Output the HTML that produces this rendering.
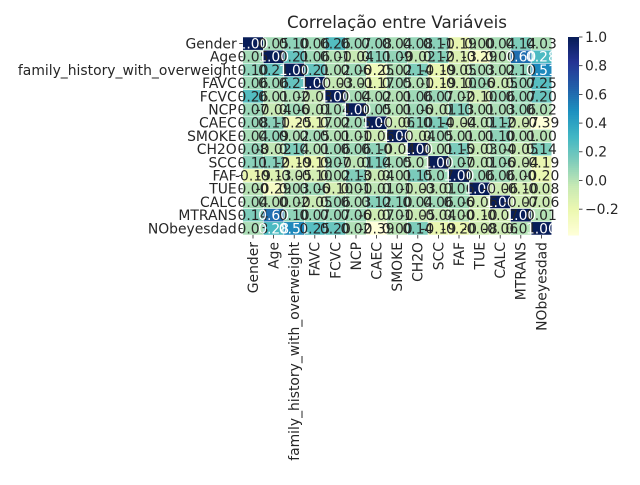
<!DOCTYPE html>
<html><head><meta charset="utf-8"><style>
body{margin:0;background:#fff}
svg text{font-family:"DejaVu Sans","Liberation Sans",sans-serif;fill:#262626}
</style></head><body>
<svg id="chart" width="640" height="480" xmlns="http://www.w3.org/2000/svg">
<text x="397" y="28" font-size="16.7" text-anchor="middle">Correlação entre Variáveis</text>
<g id="cells"></g><g id="annots"></g><g id="yaxis"></g><g id="xaxis"></g><g id="cbar"></g>
</svg>
<script>
const labels = ["Gender","Age","family_history_with_overweight","FAVC","FCVC","NCP","CAEC","SMOKE","CH2O","SCC","FAF","TUE","CALC","MTRANS","NObeyesdad"];
// upper triangle rows (values from column i+1 .. end)
const upperGender = [0.05,0.10,0.06,0.26,0.07,0.08,0.04,0.08,0.11,-0.19,-0.00,0.04,0.14,0.03];
const upperAge = [0.21,0.06,0.01,-0.04,0.11,0.09,-0.02,0.12,-0.13,-0.29,0.00,0.60,0.28];
const upperFamily = [0.21,0.02,0.06,-0.25,0.02,0.14,-0.19,-0.05,0.03,0.02,0.10,0.51];
const upperFAVC = [-0.03,-0.01,-0.17,0.05,0.01,-0.19,-0.10,0.06,-0.05,0.07,0.25];
const upperFCVC = [0.04,0.02,0.01,0.06,0.07,0.02,-0.10,0.06,0.07,0.20];
const upperNCP = [0.05,0.01,0.06,-0.01,0.13,0.01,0.03,0.06,0.02];
const upperCAEC = [-0.06,0.10,0.14,-0.04,-0.01,0.12,-0.07,-0.39];
const upperSMOKE = [-0.04,0.05,0.01,0.01,0.10,0.01,0.00];
const upperCH2O = [0.01,0.15,-0.03,0.04,-0.05,0.14];
const upperSCC = [0.07,-0.01,0.06,-0.04,-0.19];
const upperFAF = [0.06,0.06,0.00,-0.20];
const upperTUE = [-0.06,-0.10,-0.08];
const upperCALC = [-0.07,-0.06];
const upperMTRANS = [0.01];
const cbarTicks = [1.0,0.8,0.6,0.4,0.2,0.0,-0.2];
const vmin = -0.38, vmax = 1.0;

const uppers=[upperGender,upperAge,upperFamily,upperFAVC,upperFCVC,upperNCP,upperCAEC,upperSMOKE,upperCH2O,upperSCC,upperFAF,upperTUE,upperCALC,upperMTRANS,[]];
const n=labels.length;
const M=[];for(let i=0;i<n;i++){M.push(new Array(n).fill(1));}
for(let i=0;i<n;i++){uppers[i].forEach((v,k)=>{const j=i+1+k;M[i][j]=v;M[j][i]=v;});}

const X0=242.7,X1=551.7,Y0=37,Y1=235;
const cw=(X1-X0)/n,ch=(Y1-Y0)/n;
const xs=j=>X0+j*cw, ys=i=>Y0+i*ch;
const stops=["#ffffd9","#edf8b1","#c7e9b4","#7fcdbb","#41b6c4","#1d91c0","#225ea8","#253494","#081d58"].map(h=>[parseInt(h.slice(1,3),16),parseInt(h.slice(3,5),16),parseInt(h.slice(5,7),16)]);
function cmap(v){let t=(v-vmin)/(vmax-vmin);t=Math.max(0,Math.min(1,t));const p=t*(stops.length-1);const k=Math.min(stops.length-2,Math.floor(p));const f=p-k;
 return stops[k].map((c,idx)=>Math.round(c+(stops[k+1][idx]-c)*f));}
function lum(c){const l=c.map(x=>{x/=255;return x<=0.03928?x/12.92:Math.pow((x+0.055)/1.055,2.4);});return 0.2126*l[0]+0.7152*l[1]+0.0722*l[2];}
const NS="http://www.w3.org/2000/svg";
function mk(tag,attrs,parent){const e=document.createElementNS(NS,tag);for(const k in attrs)e.setAttribute(k,attrs[k]);parent.appendChild(e);return e;}
const gc=document.getElementById('cells'),ga=document.getElementById('annots');
for(let i=0;i<n;i++)for(let j=0;j<n;j++){
 const v=M[i][j];const c=cmap(v);
 const r=mk('rect',{x:xs(j),y:ys(i),width:cw,height:ch,fill:`rgb(${c})`,stroke:'#ffffff','stroke-width':0.5},gc);
 
 
 const t=mk('text',{x:xs(j)+cw/2,y:ys(i)+ch/2+4.9,'font-size':13.9,'text-anchor':'middle'},ga);
 
 
 t.style.fill=lum(c)>0.408?'#262626':'#ffffff';
 t.textContent=v.toFixed(2);
}
const gy=document.getElementById('yaxis'),gx=document.getElementById('xaxis');
labels.forEach((l,i)=>{
 const y=ys(i)+ch/2;
 mk('line',{x1:X0-3.5,x2:X0,y1:y,y2:y,stroke:'#262626','stroke-width':0.8},gy);
 const t=mk('text',{x:X0-6,y:y+4.9,'font-size':13.9,'text-anchor':'end'},gy);
 
 
 t.textContent=l;
 const x=xs(i)+cw/2;
 mk('line',{x1:x,x2:x,y1:Y1,y2:Y1+3.5,stroke:'#262626','stroke-width':0.8},gx);
 const tx=mk('text',{x:0,y:0,'font-size':13.9,'text-anchor':'end',transform:`translate(${x+4.9},${Y1+7}) rotate(-90)`},gx);
 
 
 tx.textContent=l;
});
// colorbar
const gb=document.getElementById('cbar');
const CX=568,CW=11,CY0=37,CY1=235;
const cy=v=>CY1-(v-vmin)/(vmax-vmin)*(CY1-CY0);
for(let k=0;k<100;k++){const v0=vmin+(vmax-vmin)*k/100,v1=vmin+(vmax-vmin)*(k+1)/100;
 const c=cmap((v0+v1)/2);
 const r=mk('rect',{x:CX,y:cy(v1),width:CW,height:cy(v0)-cy(v1)+0.5,fill:`rgb(${c})`},gb);
 
 }
cbarTicks.forEach(v=>{const y=cy(v);
 mk('line',{x1:CX+CW,x2:CX+CW+3.5,y1:y,y2:y,stroke:'#262626','stroke-width':0.8},gb);
 const t=mk('text',{x:CX+CW+6,y:y+4.9,'font-size':13.9},gb);
 
 
 t.textContent=v<0?'\u2212'+Math.abs(v).toFixed(1):v.toFixed(1);});
</script>
</body></html>
